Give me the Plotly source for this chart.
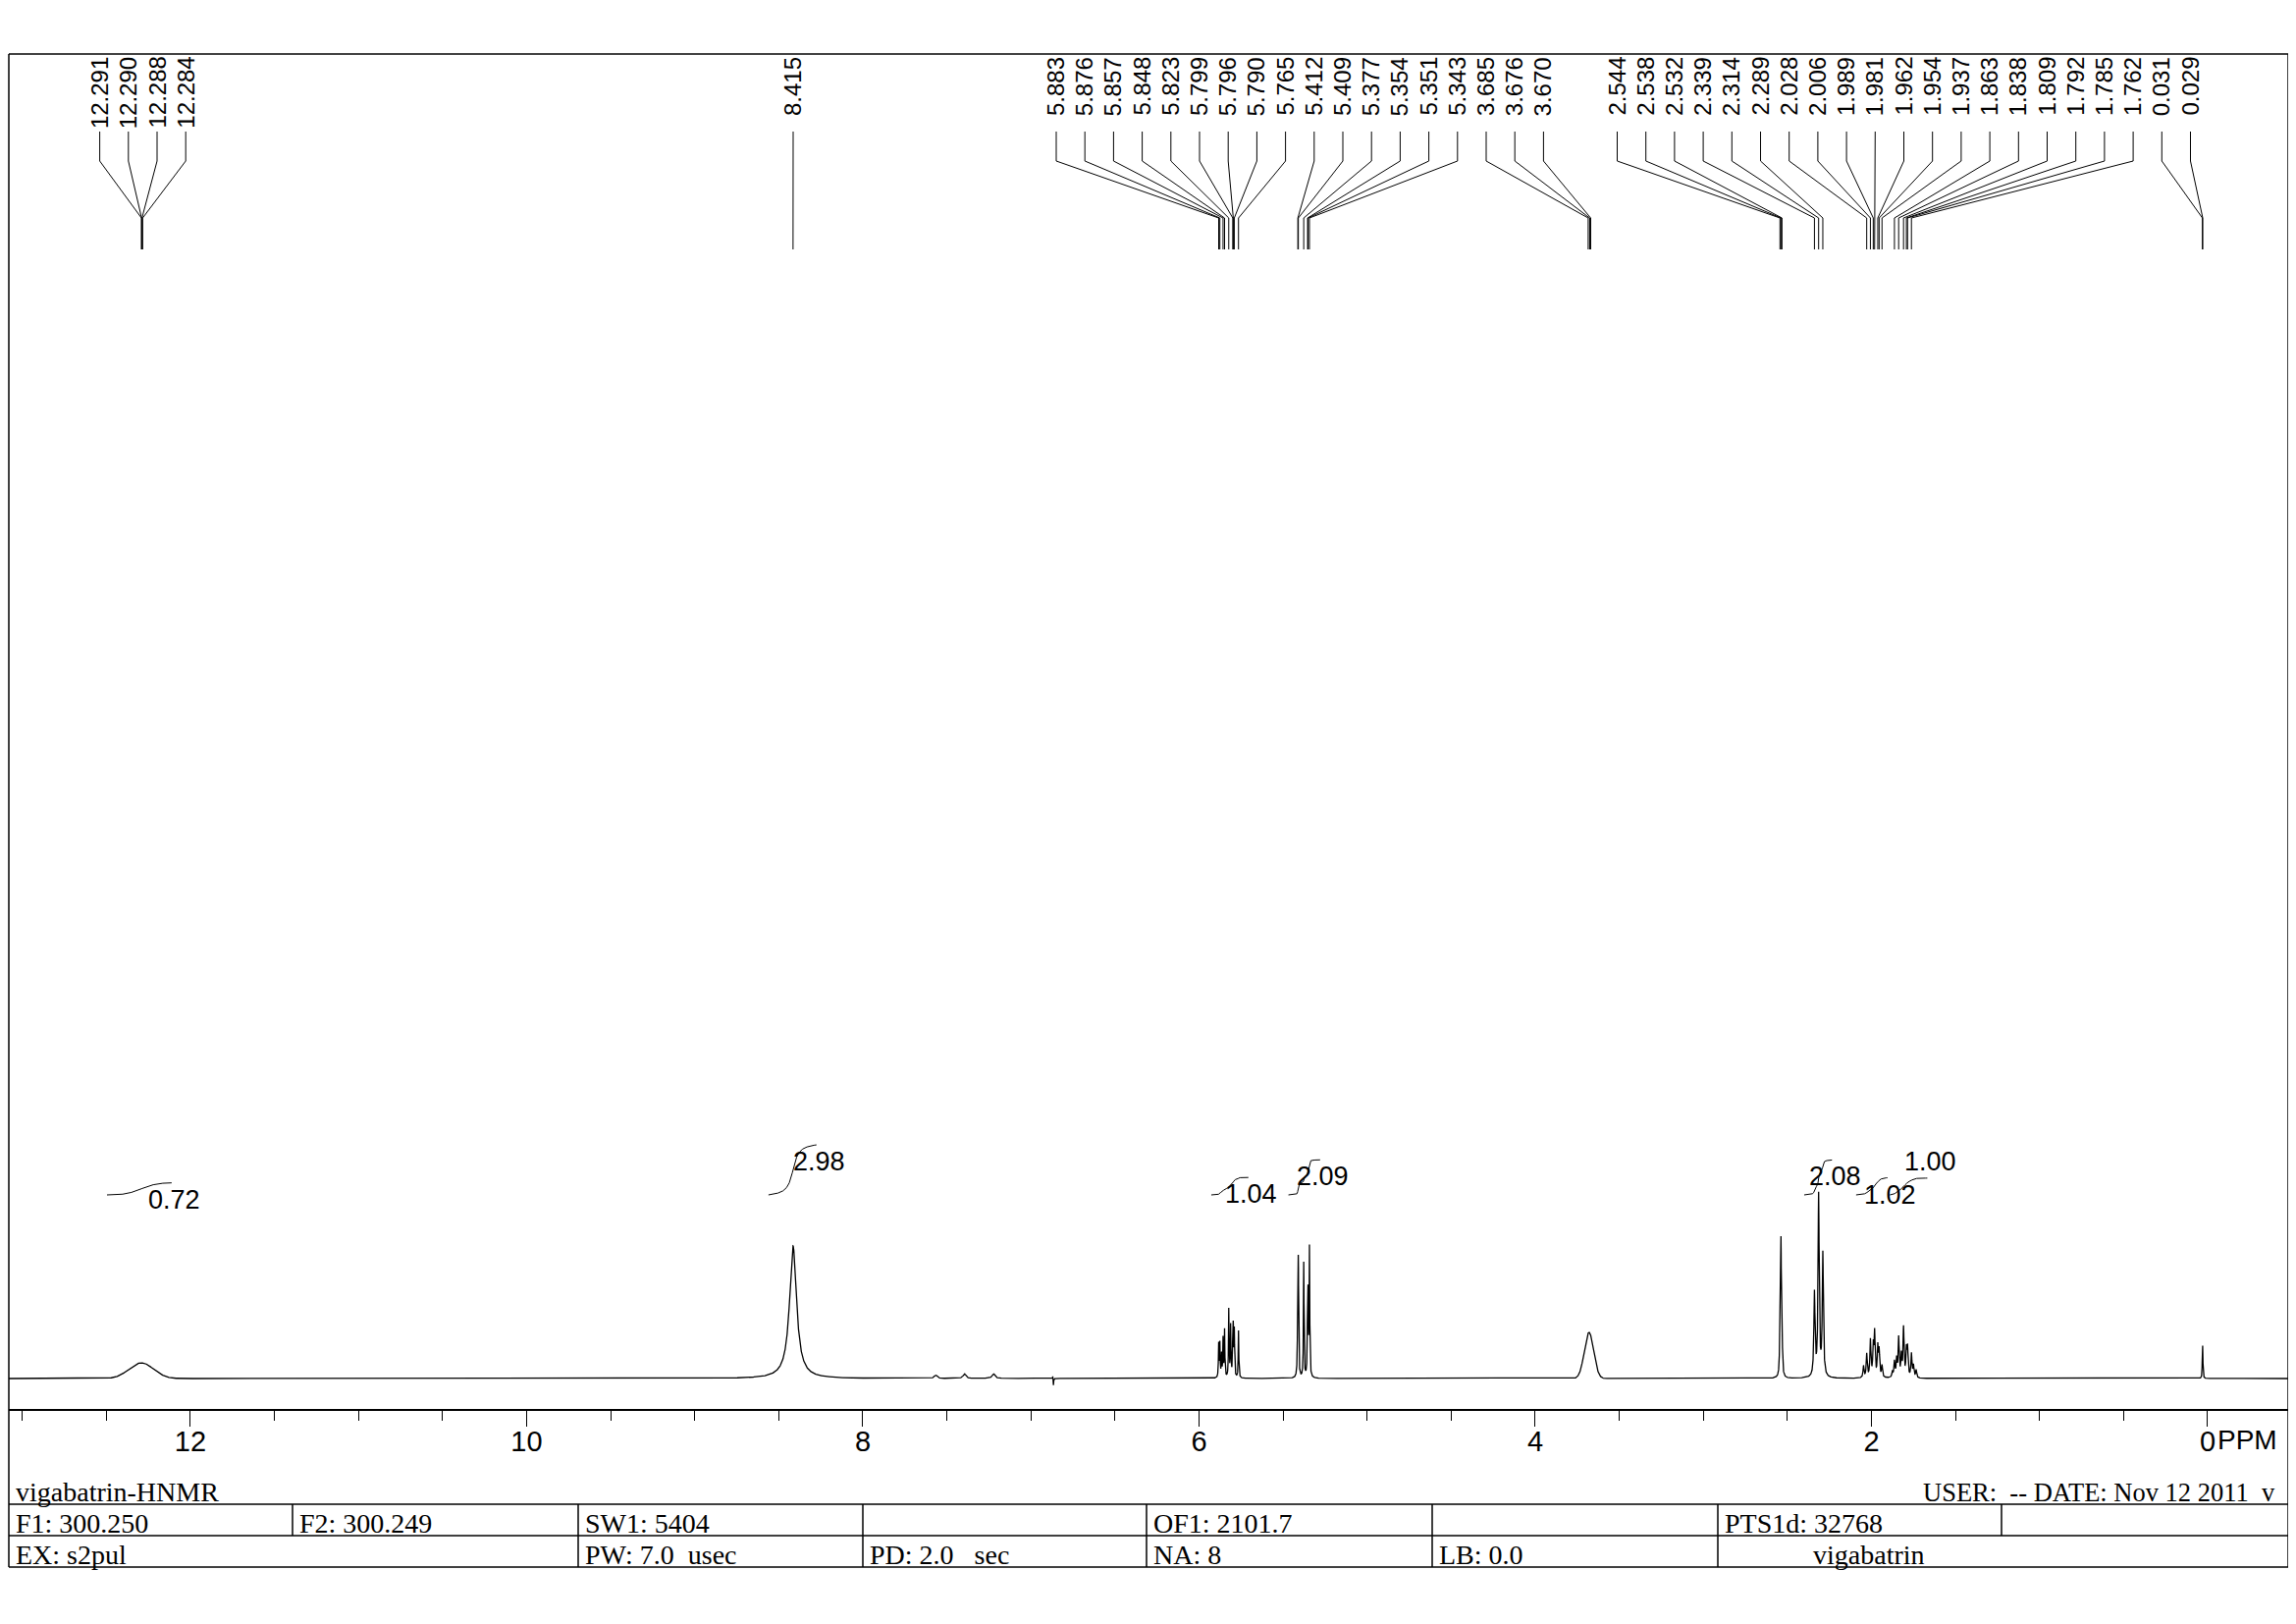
import numpy as np
import plotly.graph_objects as go

# ---------------- data ----------------
# peak-pick labels along the top
peak_label_ppm = [12.291, 12.290, 12.288, 12.284,
                  8.415,
                  5.883, 5.876, 5.857, 5.848, 5.823, 5.799, 5.796, 5.790, 5.765,
                  5.412, 5.409, 5.377, 5.354, 5.351, 5.343,
                  3.685, 3.676, 3.670,
                  2.544, 2.538, 2.532, 2.339, 2.314, 2.289,
                  2.028, 2.006, 1.989, 1.981, 1.962, 1.954, 1.937,
                  1.863, 1.838, 1.809, 1.792, 1.785, 1.762,
                  0.031, 0.029]
label_group_sizes = [4, 1, 18, 21]

# broad (gaussian) signals: COOH and NH3+
broad_ppm = [12.292, 3.680]
broad_height = [16, 47]
broad_fwhm = [0.17, 0.065]

# sharp (lorentzian) lines
nh_ppm = [8.415]
nh_height = [135]
nh_fwhm = [0.05]

arom_ppm = [7.566, 7.395, 7.222]
arom_height = [3.3, 4.7, 4.7]
arom_fwhm = [0.02, 0.02, 0.02]

glitch_ppm = [6.870, 6.866]
glitch_height = [3, -7]
glitch_fwhm = [0.003, 0.003]

vinyl_ppm = [5.883, 5.876, 5.866, 5.857, 5.848, 5.823, 5.812, 5.799, 5.796, 5.790, 5.765]
vinyl_height = [34, 34, 23, 39, 48, 69, 52, 40, 40, 46, 48]
vinyl_fwhm = [0.004] * 11

ch2_ppm = [5.412, 5.409, 5.377, 5.354, 5.351, 5.343]
ch2_height = [94, 94, 117, 66, 66, 130]
ch2_fwhm = [0.004] * 6

dmso_ppm = [2.544, 2.538, 2.532]
dmso_height = [50, 130, 50]
dmso_fwhm = [0.005] * 3

trip_ppm = [2.339, 2.314, 2.289]
trip_height = [85, 185, 125]
trip_fwhm = [0.008] * 3

mA_ppm = [2.047, 2.028, 2.006, 1.989, 1.981, 1.962, 1.954, 1.937]
mA_height = [12, 24, 38, 30, 44, 30, 26, 12]
mA_fwhm = [0.007] * 8

mB_ppm = [1.875, 1.863, 1.850, 1.838, 1.822, 1.809, 1.792, 1.785, 1.762, 1.750, 1.734]
mB_height = [6, 16, 18, 40, 22, 50, 26, 28, 24, 12, 8]
mB_fwhm = [0.007] * 11

tms_ppm = [0.031, 0.029]
tms_height = [24, 24]
tms_fwhm = [0.003, 0.003]

# integrals
integral_value = [0.72, 2.98, 1.04, 2.09, 2.08, 1.02, 1.00]
integral_from = [12.496, 8.561, 5.927, 5.468, 2.400, 2.091, 1.890]
integral_to = [12.111, 8.275, 5.705, 5.279, 2.234, 1.904, 1.667]

tick_vals = [12, 10, 8, 6, 4, 2, 0]
tick_text = ["12", "10", "8", "6", "4", "2", "0"]

# parameter table
title_text = "vigabatrin-HNMR"
user_text = "USER:\u00a0\u00a0-- DATE: Nov 12 2011\u00a0\u00a0v"
row1_cells = ["F1: 300.250", "F2: 300.249", "SW1: 5404", "", "OF1: 2101.7", "", "PTS1d: 32768", ""]
row2_cells = ["EX: s2pul", None, "PW: 7.0\u00a0\u00a0usec", "PD: 2.0\u00a0\u00a0\u00a0sec", "NA: 8", "LB: 0.0", "vigabatrin", None]

# ---------------- layout geometry (page pixels) ----------------
PAGE_W, PAGE_H = 2339, 1654
OFF = 8                                     # default body margin of the html page
W, H = PAGE_W - OFF, PAGE_H - OFF
PL, PR, PT, PB = 9, 2331, 55, 1435          # plot area in page pixels
X_LEFT, X_RIGHT = 13.080, -0.479            # ppm at left / right edge
BASE_PY = 1404                              # baseline pixel row
Y0 = -(PB - BASE_PY)
Y1 = Y0 + (PB - PT)
TABLE_BOTTOM = 1596
TABLE_ROWS = [1532, 1564, 1596]
COL_PX = [9, 298, 589, 879, 1168, 1459, 1750, 2039, 2331]

LABEL_FIRST_PX = [101.6, 808.0, 1076.0, 1647.5]
LABEL_PITCH = 29.2
INT_BASE = 187
INT_SCALE = 17.1

SANS = "Liberation Sans"
SERIF = "Liberation Serif"


def ppm_at_px(px):
    return X_LEFT + (px - PL) / (PR - PL) * (X_RIGHT - X_LEFT)


def ppm_to_px(ppm):
    return PL + (ppm - X_LEFT) / (X_RIGHT - X_LEFT) * (PR - PL)


def px_x(px):
    return (px - PL) / (PR - PL)


def px_y(py):
    return (PB - py) / (PB - PT)


# ---------------- spectrum ----------------
x = np.arange(X_LEFT, X_RIGHT, -0.0005)
y = np.zeros_like(x)


def add_lor(c_list, h_list, w_list):
    global y
    for c, h, w in zip(c_list, h_list, w_list):
        hw = w / 2
        y = y + h * hw ** 2 / ((x - c) ** 2 + hw ** 2)


def add_gau(c_list, h_list, w_list):
    global y
    for c, h, w in zip(c_list, h_list, w_list):
        y = y + h * np.exp(-4 * np.log(2) * (x - c) ** 2 / w ** 2)


add_gau(broad_ppm, broad_height, broad_fwhm)
for grp in [(nh_ppm, nh_height, nh_fwhm), (arom_ppm, arom_height, arom_fwhm),
            (glitch_ppm, glitch_height, glitch_fwhm), (vinyl_ppm, vinyl_height, vinyl_fwhm),
            (ch2_ppm, ch2_height, ch2_fwhm), (dmso_ppm, dmso_height, dmso_fwhm),
            (trip_ppm, trip_height, trip_fwhm), (mA_ppm, mA_height, mA_fwhm),
            (mB_ppm, mB_height, mB_fwhm), (tms_ppm, tms_height, tms_fwhm)]:
    add_lor(*grp)

fig = go.Figure()
fig.add_trace(go.Scatter(x=x, y=y, mode="lines", line=dict(color="black", width=1.3),
                         hoverinfo="skip", showlegend=False))

# ---------------- integrals ----------------
annotations = []
prev_end_px = None
prev_below = False
for val, a, b in zip(integral_value, integral_from, integral_to):
    m = (x <= a) & (x >= b)
    xs = x[m]
    cs = np.cumsum(y[m])
    cs = cs / cs[-1] * val * INT_SCALE + INT_BASE
    fig.add_trace(go.Scatter(x=xs, y=cs, mode="lines", line=dict(color="black", width=1),
                             hoverinfo="skip", showlegend=False))
    end_px = ppm_to_px(b)
    below = True
    if prev_end_px is not None and prev_below and abs(end_px - prev_end_px) < 52:
        below = False
    annotations.append(dict(x=b, y=cs[-1], xref="x", yref="y", text=f"{val:.2f}",
                            showarrow=False, xanchor="center",
                            yanchor="top" if below else "bottom", xshift=3,
                            font=dict(family=SANS, size=27, color="black")))
    prev_end_px, prev_below = end_px, below

# ---------------- peak labels with leader lines ----------------
slots = []
for size, first in zip(label_group_sizes, LABEL_FIRST_PX):
    for i in range(size):
        slots.append(ppm_at_px(first + i * LABEL_PITCH))
lx, ly = [], []
for v, s in zip(peak_label_ppm, slots):
    lx += [s, s, v, v, None]
    ly += [px_y(134), px_y(164), px_y(222), px_y(254), None]
    annotations.append(dict(x=s, y=px_y(56), xref="x", yref="paper", text=f"{v:.3f}",
                            textangle=-90, showarrow=False, xanchor="center", yanchor="top",
                            font=dict(family=SANS, size=24, color="black")))
fig.add_trace(go.Scatter(x=lx, y=ly, yaxis="y2", mode="lines",
                         line=dict(color="black", width=1), hoverinfo="skip", showlegend=False))

# PPM unit after the 0 tick
annotations.append(dict(x=0, y=px_y(1466), xref="x", yref="paper", text="PPM", showarrow=False,
                        xanchor="left", yanchor="middle", xshift=8,
                        font=dict(family=SANS, size=28, color="black")))

# ---------------- frame and parameter table ----------------
shapes = []


def hline(py, x0, x1, w=1.5):
    shapes.append(dict(type="line", xref="paper", yref="paper", x0=px_x(x0), x1=px_x(x1),
                       y0=px_y(py), y1=px_y(py), line=dict(color="black", width=w)))


def vline(px, y0, y1, w=1.5):
    shapes.append(dict(type="line", xref="paper", yref="paper", x0=px_x(px), x1=px_x(px),
                       y0=px_y(y0), y1=px_y(y1), line=dict(color="black", width=w)))


hline(PT, PL, PR)
vline(PL, PT, TABLE_BOTTOM)
vline(PR, PT, TABLE_BOTTOM)
for r in TABLE_ROWS:
    hline(r, PL, PR)
for c in COL_PX[1:-1]:
    vline(c, TABLE_ROWS[0], TABLE_ROWS[1])
for i, c in enumerate(COL_PX[1:-1], start=1):
    if row2_cells[i] is not None:
        vline(c, TABLE_ROWS[1], TABLE_ROWS[2])


def serif_text(px, baseline, text, size=28):
    annotations.append(dict(x=px_x(px), y=px_y(baseline + 7), xref="paper", yref="paper",
                            text=text, showarrow=False, xanchor="left", yanchor="bottom",
                            font=dict(family=SERIF, size=size, color="black")))


serif_text(14, 1530, title_text)
serif_text(1957, 1530, user_text, size=26.5)
for i, t in enumerate(row1_cells):
    if t:
        serif_text(COL_PX[i] + 5, 1562, t)
for i, t in enumerate(row2_cells):
    if t:
        off = 95 if t == "vigabatrin" else 5
        serif_text(COL_PX[i] + off, 1594, t)

fig.update_layout(
    width=W, height=H, autosize=False,
    margin=dict(l=PL - OFF, r=(PAGE_W - PR), t=PT - OFF, b=(PAGE_H - PB), pad=0),
    paper_bgcolor="white", plot_bgcolor="white",
    showlegend=False,
    xaxis=dict(range=[X_LEFT, X_RIGHT], showgrid=False, zeroline=False,
               showline=True, linecolor="black", linewidth=2,
               ticks="outside", ticklen=16, tickwidth=1.2, tickcolor="black",
               tickvals=tick_vals, ticktext=tick_text, ticklabelstandoff=-10,
               tickfont=dict(family=SANS, size=29, color="black"),
               minor=dict(dtick=0.5, tick0=0, ticks="outside", ticklen=10, tickwidth=1.2,
                          tickcolor="black", showgrid=False)),
    yaxis=dict(range=[Y0, Y1], visible=False, fixedrange=True),
    yaxis2=dict(range=[0, 1], visible=False, overlaying="y"),
    shapes=shapes, annotations=annotations,
)

fig.write_html("out.html")
